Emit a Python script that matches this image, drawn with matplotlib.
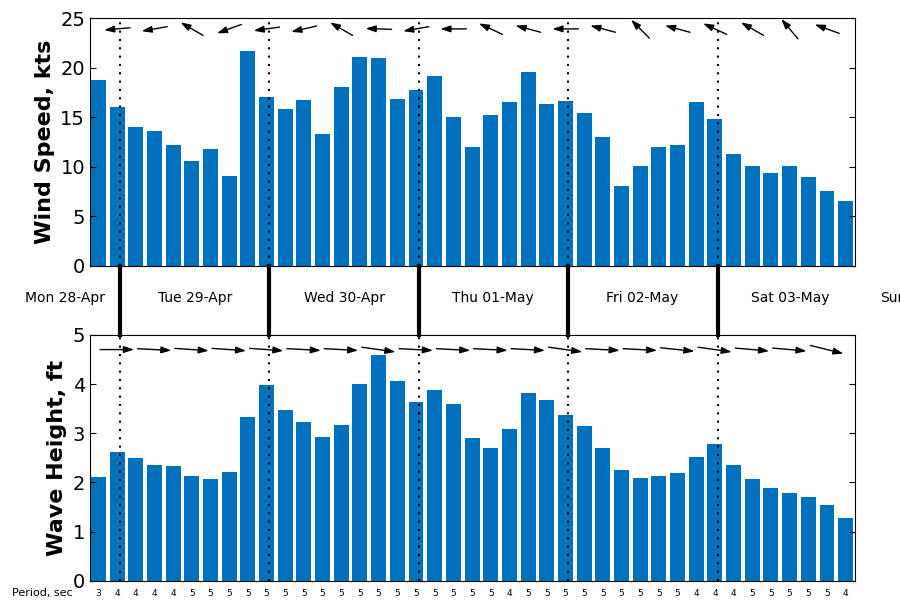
import numpy as np
import matplotlib
matplotlib.use("Agg")
import matplotlib.pyplot as plt

# ---------- datos ----------
wind = [18.7, 16.0, 14.0, 13.6, 12.2, 10.6, 11.8, 9.1, 21.7, 17.0, 15.8, 16.7, 13.3, 18.0,
        21.1, 21.0, 16.8, 17.7, 19.1, 15.0, 12.0, 15.2, 16.5, 19.6, 16.3, 16.6, 15.4, 13.0,
        8.1, 10.1, 12.0, 12.2, 16.5, 14.8, 11.3, 10.1, 9.4, 10.1, 9.0, 7.5, 6.5]
wave = [2.10, 2.62, 2.50, 2.36, 2.34, 2.14, 2.06, 2.22, 3.32, 3.97, 3.47, 3.22, 2.92, 3.16,
        3.99, 4.58, 4.07, 3.63, 3.87, 3.59, 2.90, 2.70, 3.08, 3.82, 3.68, 3.38, 3.14, 2.70,
        2.26, 2.08, 2.14, 2.20, 2.52, 2.78, 2.36, 2.06, 1.88, 1.78, 1.70, 1.55, 1.27]
period = [3, 4, 4, 4, 4, 5, 5, 5, 5, 5, 5, 5, 5, 5, 5, 5, 5, 5, 5, 5, 5, 5, 4, 5, 5, 5,
          5, 5, 5, 5, 5, 5, 4, 4, 4, 5, 5, 5, 5, 5, 4]
# direcciones de flecha (grados, 0 = derecha, antihorario) cada 2 barras desde la 1
wind_dir = [185, 190, 150, 200, 188, 193, 150, 178, 190, 180,
            155, 165, 180, 165, 135, 165, 155, 150, 130, 160]
wave_dir = [0, -3, -4, -4, -4, -3, -3, -8, -3, -3,
            -3, -3, -8, -3, -3, -6, -8, -5, -5, -14]
days = ["Mon 28-Apr", "Tue 29-Apr", "Wed 30-Apr", "Thu 01-May", "Fri 02-May", "Sat 03-May", "Sun"]
day_start = [1, 9, 17, 25, 33]

C_BAR = "#0072BD"
x = np.arange(len(wind))

fig = plt.figure(figsize=(9, 6), dpi=100)
ax1 = fig.add_axes([0.1, 0.557, 0.85, 0.413])
ax2 = fig.add_axes([0.1, 0.032, 0.85, 0.41])

for ax, vals, ymax, lab in ((ax1, wind, 25, "Wind Speed, kts"), (ax2, wave, 5, "Wave Height, ft")):
    ax.bar(x, vals, width=0.8, color=C_BAR)
    ax.set_xlim(-0.45, 40.5)
    ax.set_ylim(0, ymax)
    ax.set_xticks([])
    ax.tick_params(axis="y", direction="in", right=True, labelsize=14, length=4)
    ax.set_ylabel(lab, fontsize=16, fontweight="bold")
    for d in day_start:
        ax.axvline(d + 0.15, color="black", ls=(0, (1, 3)), lw=1.5)

# líneas gruesas entre paneles y etiquetas de día
for d in day_start:
    xf = fig.transFigure.inverted().transform(ax1.transData.transform((d + 0.15, 0)))[0]
    fig.add_artist(plt.Line2D([xf, xf], [0.442, 0.557], color="black", lw=3))
centers_px = [65, 195, 344, 493, 642, 790]
for name, cx in zip(days[:-1], centers_px):
    fig.text(cx / 900, 0.503, name, ha="center", va="center", fontsize=10)
fig.text(880 / 900, 0.503, days[-1], ha="left", va="center", fontsize=10)

# periodos
fig.text(12 / 900, 1 - 593 / 600, "Period, sec", fontsize=8, va="center")
for i, p in enumerate(period):
    xf = fig.transFigure.inverted().transform(ax2.transData.transform((i, 0)))[0]
    fig.text(xf, 1 - 593 / 600, str(p), fontsize=6.5, ha="center", va="center")

# flechas
fig.canvas.draw()
def arrows(ax, ypos, dirs, length):
    for k, ang in enumerate(dirs):
        cx, cy = ax.transData.transform((1 + 2 * k, ypos))
        dx = np.cos(np.radians(ang)) * length / 2
        dy = np.sin(np.radians(ang)) * length / 2
        ax.annotate("", xy=(cx + dx, cy + dy), xytext=(cx - dx, cy - dy),
                    xycoords="figure pixels", textcoords="figure pixels",
                    arrowprops=dict(arrowstyle="-|>,head_length=0.6,head_width=0.2",
                                    color="black", lw=1, shrinkA=0, shrinkB=0),
                    annotation_clip=False)

arrows(ax1, 23.9, wind_dir, 26)
arrows(ax2, 4.7, wave_dir, 34)

fig.savefig("out.png", dpi=100)
